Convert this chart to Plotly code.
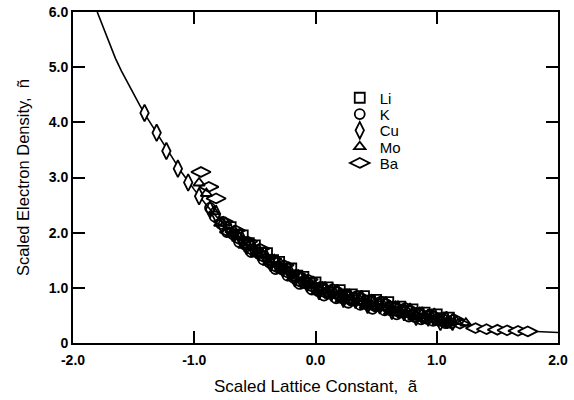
import plotly.graph_objects as go

# ---- universal curve ----
curve_a = [-1.80, -1.75, -1.70, -1.65, -1.60, -1.55, -1.50, -1.45, -1.40, -1.35,
           -1.30, -1.20, -1.10, -1.00, -0.90,
           -0.80, -0.70, -0.60, -0.50, -0.40, -0.30, -0.20, -0.10, 0.00, 0.10,
           0.20, 0.30, 0.40, 0.50, 0.60, 0.70, 0.80, 0.90, 1.00, 1.10,
           1.20, 1.30, 1.40, 1.50, 1.60, 1.70, 1.80, 1.90, 2.00]
curve_n = [6.00, 5.71, 5.43, 5.16, 4.93, 4.72, 4.52, 4.31, 4.12, 3.95,
           3.78, 3.42, 3.08, 2.78, 2.50,
           2.25, 2.03, 1.85, 1.69, 1.53, 1.39, 1.25, 1.12, 1.00, 0.93,
           0.86, 0.80, 0.75, 0.70, 0.64, 0.58, 0.52, 0.47, 0.43, 0.39,
           0.35, 0.28, 0.255, 0.24, 0.23, 0.22, 0.21, 0.20, 0.19]

# ---- data series ----
li_a = [-0.70, -0.65, -0.60, -0.55, -0.50, -0.45, -0.40, -0.35, -0.30, -0.25,
        -0.20, -0.15, -0.10, -0.05, 0.00, 0.05, 0.10, 0.15, 0.20, 0.25,
        0.30, 0.35, 0.40, 0.45, 0.50, 0.55, 0.60, 0.65, 0.70, 0.75,
        0.80, 0.85, 0.90, 0.95, 1.00, 1.05, 1.10]
li_n = [2.10, 1.97, 1.95, 1.81, 1.77, 1.64, 1.63, 1.50, 1.47, 1.35,
        1.35, 1.22, 1.20, 1.09, 1.10, 1.00, 1.01, 0.92, 0.96, 0.87,
        0.88, 0.80, 0.85, 0.76, 0.78, 0.70, 0.74, 0.65, 0.66, 0.58,
        0.61, 0.54, 0.55, 0.48, 0.52, 0.45, 0.46]

k_a = [-0.87, -0.83, -0.78, -0.73, -0.68, -0.63, -0.58, -0.53, -0.48, -0.43,
       -0.38, -0.33, -0.28, -0.23, -0.18, -0.13, -0.08, -0.03, 0.02, 0.07,
       0.12, 0.17, 0.22, 0.27, 0.32, 0.37, 0.42, 0.47, 0.52, 0.57,
       0.62, 0.67, 0.72, 0.77, 0.82, 0.87, 0.92, 0.97, 1.02, 1.07, 1.12]
k_n = [2.45, 2.29, 2.16, 2.01, 1.97, 1.83, 1.78, 1.65, 1.64, 1.51,
       1.46, 1.34, 1.34, 1.22, 1.18, 1.07, 1.08, 0.97, 0.94, 0.86,
       0.89, 0.81, 0.81, 0.73, 0.77, 0.69, 0.70, 0.62, 0.67, 0.59,
       0.59, 0.52, 0.55, 0.48, 0.47, 0.43, 0.44, 0.40, 0.40, 0.36, 0.36]

cu_a = [-1.41, -1.31, -1.23, -1.135, -1.05, -0.96,
        -0.87, -0.82, -0.77, -0.72, -0.67, -0.62, -0.57, -0.52, -0.47, -0.42,
        -0.37, -0.32, -0.27, -0.22, -0.17, -0.12, -0.07, -0.02, 0.03, 0.08,
        0.13, 0.18, 0.23, 0.28, 0.33, 0.38, 0.43, 0.48, 0.53, 0.58,
        0.63, 0.68, 0.73, 0.78, 0.83, 0.88, 0.93, 0.98, 1.03, 1.08, 1.13]
cu_n = [4.17, 3.81, 3.48, 3.16, 2.91, 2.66,
        2.42, 2.34, 2.14, 2.09, 1.98, 1.93, 1.76, 1.74, 1.64, 1.60,
        1.45, 1.44, 1.35, 1.32, 1.17, 1.16, 1.08, 1.06, 0.94, 0.96,
        0.91, 0.91, 0.80, 0.83, 0.78, 0.80, 0.69, 0.73, 0.68, 0.69,
        0.58, 0.61, 0.56, 0.57, 0.47, 0.50, 0.46, 0.48, 0.38, 0.42, 0.38]

mo_a = [-0.96, -0.90, -0.84, -0.79, -0.74, -0.69, -0.64, -0.59, -0.54, -0.49,
        -0.44, -0.39, -0.34, -0.29, -0.24, -0.19, -0.14, -0.09, -0.04, 0.01,
        0.06, 0.11, 0.16, 0.21, 0.26, 0.31, 0.36, 0.41, 0.46, 0.51,
        0.56, 0.61, 0.66, 0.71, 0.76, 0.81, 0.86, 0.91, 0.96, 1.01,
        1.06, 1.11, 1.16, 1.24]
mo_n = [2.90, 2.71, 2.38, 2.17, 2.18, 1.98, 1.95, 1.77, 1.81, 1.64,
        1.62, 1.46, 1.51, 1.35, 1.34, 1.18, 1.23, 1.08, 1.08, 0.93,
        1.01, 0.89, 0.91, 0.79, 0.88, 0.76, 0.80, 0.68, 0.78, 0.66,
        0.69, 0.57, 0.66, 0.54, 0.57, 0.47, 0.55, 0.44, 0.48, 0.38,
        0.46, 0.37, 0.39, 0.36]

ba_a = [-0.945, -0.88, -0.82,
        -0.76, -0.71, -0.66, -0.61, -0.56, -0.51, -0.46, -0.41, -0.36, -0.31,
        -0.26, -0.21, -0.16, -0.11, -0.06, -0.01, 0.04, 0.09, 0.14, 0.19,
        0.24, 0.29, 0.34, 0.39, 0.44, 0.49, 0.54, 0.59, 0.64, 0.69,
        0.74, 0.79, 0.84, 0.89, 0.94, 0.99, 1.04, 1.09, 1.14, 1.19,
        1.32, 1.41, 1.50, 1.58, 1.67, 1.75]
ba_n = [3.10, 2.83, 2.62,
        2.20, 2.01, 2.04, 1.86, 1.84, 1.67, 1.71, 1.54, 1.52, 1.36,
        1.41, 1.25, 1.24, 1.09, 1.15, 1.00, 1.02, 0.90, 0.98, 0.86,
        0.89, 0.77, 0.86, 0.74, 0.78, 0.66, 0.76, 0.64, 0.67, 0.55,
        0.64, 0.52, 0.55, 0.45, 0.52, 0.43, 0.45, 0.36, 0.43, 0.35,
        0.27, 0.25, 0.24, 0.23, 0.22, 0.21]

series_names = ["Li", "K", "Cu", "Mo", "Ba"]
series_a = [li_a, k_a, cu_a, mo_a, ba_a]
series_n = [li_n, k_n, cu_n, mo_n, ba_n]

x_ticks = [-2, -1, 0, 1, 2]
x_ticktext = ["-2.0", "-1.0", "0.0", "1.0", "2.0"]
y_ticks = [0, 1, 2, 3, 4, 5, 6]
y_ticktext = ["0", "1.0", "2.0", "3.0", "4.0", "5.0", "6.0"]

FONT = "Liberation Sans, Arial, Helvetica, sans-serif"

symbols = ["square", "circle", "diamond-tall", "triangle-up", "diamond-wide"]
sizes = [10, 10, 12, 10, 14]
legend_ids = ["legend", "legend2", "legend3", "legend4", "legend5"]
row_px = [98, 114.3, 130.6, 146.9, 163.2]
PLOT_TOP, PLOT_BOTTOM = 12, 343

# isolated points keep a white interior; points inside the dense band are
# drawn hollow so overlapping outlines merge into the dark band
BAND_LO, BAND_HI = -0.93, 1.27

fig = go.Figure()
fig.add_trace(go.Scatter(x=curve_a, y=curve_n, mode="lines",
                         line=dict(color="black", width=1.6),
                         showlegend=False, hoverinfo="skip"))

for name, xa, yn, sym, sz, lid in zip(series_names, series_a, series_n,
                                      symbols, sizes, legend_ids):
    fills = ["rgba(0,0,0,0)" if BAND_LO < v < BAND_HI else "white" for v in xa]
    fig.add_trace(go.Scatter(
        x=xa, y=yn, mode="markers", name=name, legend=lid,
        marker=dict(symbol=sym, size=sz, color=fills,
                    line=dict(color="black", width=1.8)),
    ))

axis_common = dict(
    showgrid=False, zeroline=False, showline=True, linecolor="black",
    linewidth=2, mirror="ticks", ticks="inside", ticklen=12, tickwidth=1.5,
    tickcolor="black", automargin=False,
    tickfont=dict(family=FONT, size=14, color="black", weight="bold"),
)

legends = {}
for lid, rp in zip(legend_ids, row_px):
    legends[lid] = dict(
        x=0.55, y=(PLOT_BOTTOM - rp) / (PLOT_BOTTOM - PLOT_TOP),
        xanchor="left", yanchor="middle",
        bgcolor="rgba(0,0,0,0)", borderwidth=0,
        font=dict(family=FONT, size=15, color="black"),
    )

fig.update_layout(
    width=574, height=400,
    margin=dict(l=73, r=16, t=PLOT_TOP, b=400 - PLOT_BOTTOM),
    paper_bgcolor="white", plot_bgcolor="white",
    font=dict(family=FONT, color="black"),
    xaxis=dict(range=[-2, 2], tickvals=x_ticks, ticktext=x_ticktext,
               ticklabelstandoff=3,
               title=dict(text="Scaled Lattice Constant,  ã",
                          font=dict(family=FONT, size=17, color="black"),
                          standoff=13),
               **axis_common),
    yaxis=dict(range=[0, 6], tickvals=y_ticks, ticktext=y_ticktext,
               title=dict(text="Scaled Electron Density,  ñ",
                          font=dict(family=FONT, size=16.5, color="black"),
                          standoff=15),
               **axis_common),
    showlegend=True,
    **legends,
)

fig.write_html("out.html")
